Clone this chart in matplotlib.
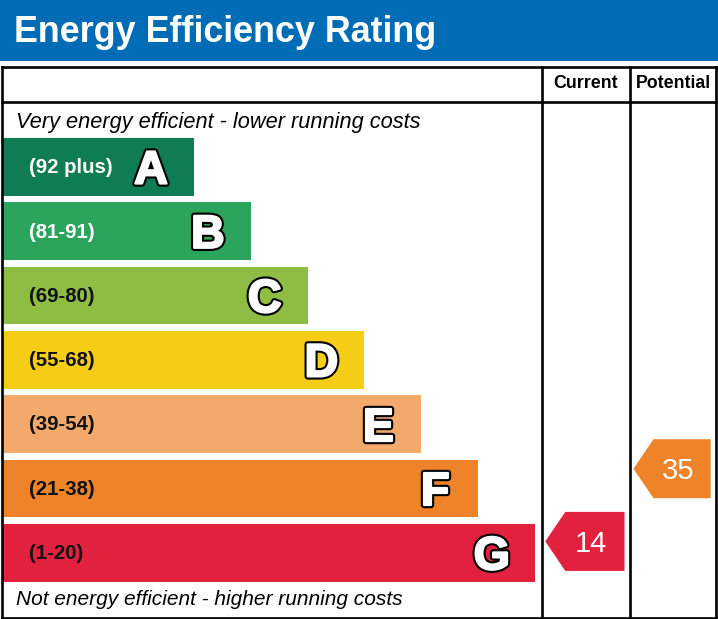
import matplotlib
matplotlib.use("Agg")
import matplotlib.pyplot as plt
from matplotlib.patches import Rectangle, Polygon
import matplotlib.patheffects as pe

# ---- data ----
bands = ["A", "B", "C", "D", "E", "F", "G"]
band_labels = ["(92 plus)", "(81-91)", "(69-80)", "(55-68)", "(39-54)", "(21-38)", "(1-20)"]
band_low = [92, 81, 69, 55, 39, 21, 1]
band_high = [100, 91, 80, 68, 54, 38, 20]
band_colors = ["#107c56", "#2ca55c", "#8fbd43", "#f6cd16", "#f3a96b", "#ee8329", "#e2213f"]
label_colors = ["white", "white", "#111111", "#111111", "#111111", "#111111", "#111111"]
current_value = 14
potential_value = 35
title = "Energy Efficiency Rating"
top_note = "Very energy efficient - lower running costs"
bottom_note = "Not energy efficient - higher running costs"
col_titles = ["Current", "Potential"]

# ---- layout (pixel units) ----
W, H = 718, 619
fig = plt.figure(figsize=(W / 100, H / 100), dpi=100)
ax = fig.add_axes([0, 0, 1, 1])
ax.set_xlim(0, W)
ax.set_ylim(H, 0)
ax.axis("off")

FONT = "Liberation Sans"
header_blue = "#006cb5"

# header band
ax.add_patch(Rectangle((0, 0), W, 61, color=header_blue, lw=0))
ax.text(14, 42, title, color="white", fontsize=25.8, fontweight="bold",
        family=FONT, va="baseline", ha="left")

# table frame
lw = 1.9
left, right, top, bottom = 1.5, 716.2, 66.5, 617.5
col1, col2 = 541.8, 630
header_line = 101.5
for xs, ys in [([left, right], [top, top]), ([left, right], [bottom, bottom]),
               ([left, left], [top, bottom]), ([right, right], [top, bottom]),
               ([left, right], [header_line, header_line]),
               ([col1, col1], [top, bottom]), ([col2, col2], [top, bottom])]:
    ax.plot(xs, ys, color="black", lw=lw, solid_capstyle="projecting", zorder=5)

ax.text((col1 + col2) / 2, 84, col_titles[0], fontsize=12.8, fontweight="bold",
        family=FONT, ha="center", va="center")
ax.text((col2 + right) / 2 + 0.5, 84, col_titles[1], fontsize=12.8, fontweight="bold",
        family=FONT, ha="center", va="center")

ax.text(16, 128, top_note, fontsize=15.7, style="italic", family=FONT,
        ha="left", va="baseline")
ax.text(16, 605, bottom_note, fontsize=15, style="italic", family=FONT,
        ha="left", va="baseline")

# bands
row_top0 = 138.0
pitch = 64.3
bar_h = 57.7
bar_left = 2
bar_right0 = 194.0
bar_step = 56.8

letter_pt = 33.5
letter_px = letter_pt * 100 / 72
range_pt = 14.7
range_px = range_pt * 100 / 72

for i, b in enumerate(bands):
    y0 = row_top0 + i * pitch
    yc = y0 + bar_h / 2
    r = bar_right0 + i * bar_step
    ax.add_patch(Rectangle((bar_left, y0), r - bar_left, bar_h,
                           color=band_colors[i], lw=0, zorder=2))
    ax.text(29, yc + 0.36 * range_px - 1, band_labels[i], color=label_colors[i],
            fontsize=range_pt, fontweight="bold", family=FONT,
            ha="left", va="baseline", zorder=3)
    t = ax.text(r - 43, yc + 0.358 * letter_px, b, color="white",
                fontsize=letter_pt, fontweight="bold", family=FONT,
                ha="center", va="baseline", zorder=3)
    t.set_path_effects([pe.Stroke(linewidth=4.6, foreground="black"),
                        pe.Stroke(linewidth=1.6, foreground="white"),
                        pe.Normal()])


def value_y(v):
    for i in range(len(bands)):
        if band_low[i] <= v <= band_high[i]:
            yc = row_top0 + i * pitch + bar_h / 2
            mid = (band_low[i] + band_high[i]) / 2
            span = band_high[i] - band_low[i] + 1
            return yc - (v - mid) / span * pitch, i
    return None, None


def arrow(v, xl, xr):
    yc, i = value_y(v)
    h = 59
    tip = xl + 3.5
    notch = tip + 20
    rr = xr - 5.5
    pts = [(tip, yc), (notch, yc - h / 2), (rr, yc - h / 2),
           (rr, yc + h / 2), (notch, yc + h / 2)]
    ax.add_patch(Polygon(pts, closed=True, color=band_colors[i], lw=0, zorder=3))
    num_pt = 21
    ax.text((tip + rr) / 2 + 6, yc + 0.358 * num_pt * 100 / 72, str(v),
            color="white", fontsize=num_pt, family=FONT,
            ha="center", va="baseline", zorder=4)


arrow(current_value, col1, col2)
arrow(potential_value, col2, right)

fig.savefig("out.png", dpi=100)
